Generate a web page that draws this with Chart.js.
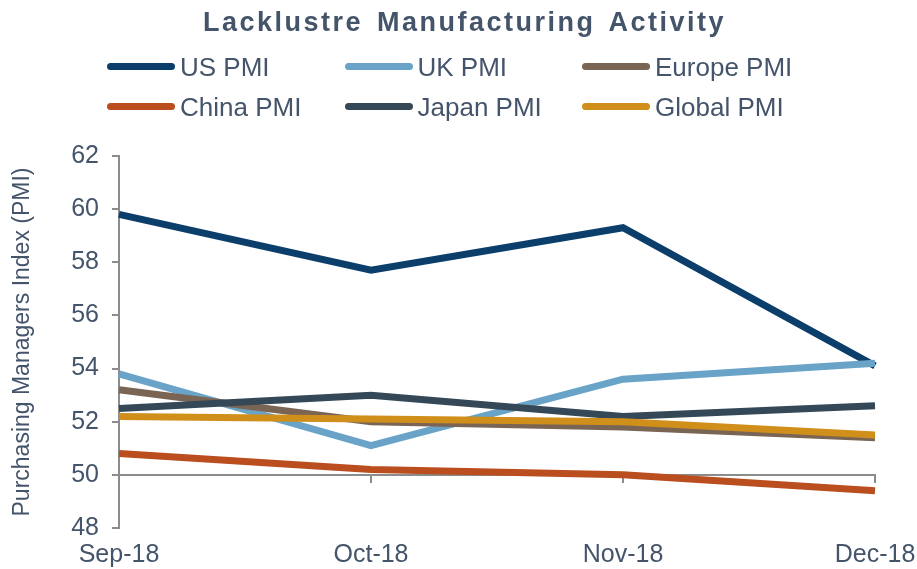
<!DOCTYPE html>
<html>
<head>
<meta charset="utf-8">
<script src="https://cdn.jsdelivr.net/npm/chart.js@4.4.1/dist/chart.umd.min.js"></script>
<style>
html,body{margin:0;padding:0;background:#fff;}
#wrap{position:relative;width:917px;height:569px;overflow:hidden;font-family:"Liberation Sans",Arial,sans-serif;color:#44546a;background:#fff;}
#chart{position:absolute;left:0;top:0;}
#title{position:absolute;left:0;top:6px;width:917px;box-sizing:border-box;padding-left:12px;text-align:center;font-weight:bold;font-size:27px;line-height:32px;letter-spacing:2.5px;word-spacing:4px;white-space:nowrap;}
.leg{position:absolute;height:30px;white-space:nowrap;}
.leg .sw{position:absolute;left:0;top:11.5px;width:68px;height:7px;border-radius:3.5px;}
.leg .tx{position:absolute;left:73px;top:0;font-size:26px;line-height:30px;}
</style>
</head>
<body>
<div id="wrap">
  <canvas id="chart" width="917" height="569"></canvas>
  <div id="title">Lacklustre Manufacturing Activity</div>
  <div id="legend"></div>
</div>
<script>
// ---- data ----
const categories = ['Sep-18', 'Oct-18', 'Nov-18', 'Dec-18'];
const usPMI     = [59.8, 57.7, 59.3, 54.1];
const ukPMI     = [53.8, 51.1, 53.6, 54.2];
const europePMI = [53.2, 52.0, 51.8, 51.4];
const chinaPMI  = [50.8, 50.2, 50.0, 49.4];
const japanPMI  = [52.5, 53.0, 52.2, 52.6];
const globalPMI = [52.2, 52.1, 52.0, 51.5];
const seriesNames  = ['US PMI', 'UK PMI', 'Europe PMI', 'China PMI', 'Japan PMI', 'Global PMI'];
const seriesValues = [usPMI, ukPMI, europePMI, chinaPMI, japanPMI, globalPMI];
const seriesColors = ['#0c3e6b', '#6aa3c8', '#7a6453', '#ba4e1f', '#354857', '#d08e1b'];
const yMin = 48, yMax = 62, yStep = 2;
const yTitle = 'Purchasing Managers Index (PMI)';

const textColor = '#44546a';
const axisGray = '#8c8c8c';
const fontFamily = '"Liberation Sans", Arial, sans-serif';

// ---- legend (HTML, built from series arrays) ----
const legend = document.getElementById('legend');
seriesNames.forEach((name, i) => {
  const col = i % 3, row = Math.floor(i / 3);
  const item = document.createElement('div');
  item.className = 'leg';
  item.style.left = (107 + col * 237.5) + 'px';
  item.style.top = (66.5 + row * 40 - 15) + 'px';
  const sw = document.createElement('span');
  sw.className = 'sw';
  sw.style.background = seriesColors[i];
  const tx = document.createElement('span');
  tx.className = 'tx';
  tx.textContent = name;
  item.appendChild(sw);
  item.appendChild(tx);
  legend.appendChild(item);
});

// ---- chart ----
const datasets = seriesNames.map((name, i) => ({
  label: name,
  data: seriesValues[i],
  borderColor: seriesColors[i],
  backgroundColor: seriesColors[i],
  borderWidth: 7,
  pointRadius: 0,
  pointHoverRadius: 0,
  tension: 0,
  fill: false,
  xAxisID: 'x',
  yAxisID: 'y',
  order: seriesNames.length - i
}));

new Chart(document.getElementById('chart'), {
  type: 'line',
  data: { labels: categories, datasets },
  options: {
    responsive: false,
    animation: false,
    events: [],
    layout: { padding: { top: 156, right: 42, bottom: 0, left: 0 } },
    plugins: {
      legend: { display: false },
      title: { display: false },
      tooltip: { enabled: false }
    },
    scales: {
      x: {
        type: 'category',
        position: 'bottom',
        offset: false,
        grid: { display: false, drawTicks: false },
        border: { display: false },
        ticks: { color: textColor, font: { family: fontFamily, size: 25 }, padding: 12, maxRotation: 0, autoSkip: false },
        afterFit: s => { s.height = 41; s.paddingLeft = 0; s.paddingRight = 0; }
      },
      x2: {
        type: 'category',
        position: { y: 50 },
        offset: false,
        ticks: { display: false },
        grid: { drawOnChartArea: false, drawTicks: true, tickLength: 7, color: axisGray, lineWidth: 2 },
        border: { display: true, color: axisGray, width: 2 },
        afterFit: s => { s.paddingLeft = 0; s.paddingRight = 0; }
      },
      y: {
        type: 'linear',
        position: 'left',
        min: yMin,
        max: yMax,
        ticks: { stepSize: yStep, color: textColor, font: { family: fontFamily, size: 25 }, padding: 13 },
        grid: { drawOnChartArea: false, drawTicks: true, tickLength: 7, color: axisGray, lineWidth: 2 },
        border: { display: true, color: axisGray, width: 2 },
        title: { display: true, text: yTitle, color: textColor, font: { family: fontFamily, size: 23 }, padding: { top: 9, bottom: 0 } },
        afterFit: s => { s.width = 119; }
      }
    }
  }
});
</script>
</body>
</html>
